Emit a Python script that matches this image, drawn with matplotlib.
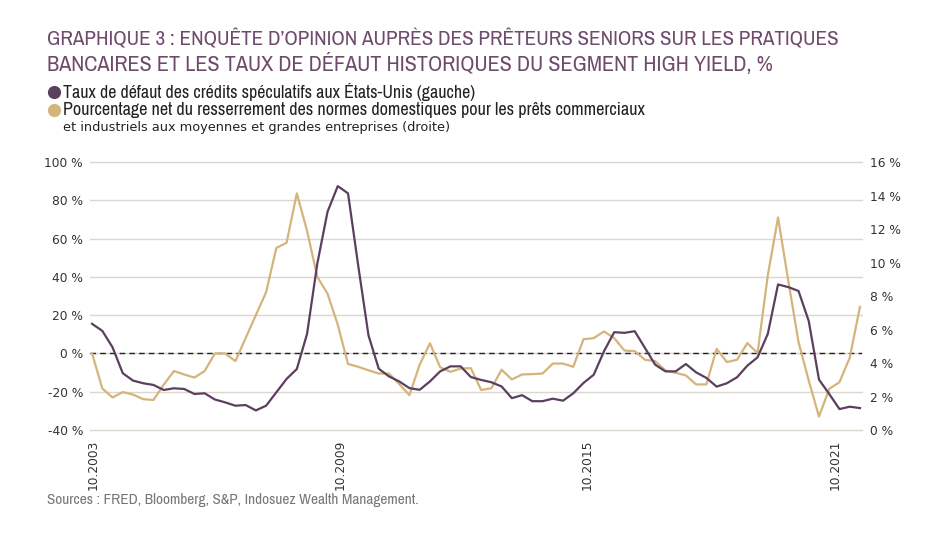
import matplotlib
matplotlib.use("Agg")
import matplotlib.pyplot as plt
from matplotlib import font_manager
from matplotlib.lines import Line2D
import numpy as np

avail = {f.name for f in font_manager.fontManager.ttflist}
NARROW = next((f for f in ["Archivo Narrow", "Roboto Condensed", "PT Sans Narrow",
                           "Barlow Semi Condensed", "Asap Condensed"] if f in avail), "DejaVu Sans")

# ---- data (quarterly, 10.2003 -> 07.2022) ----
tick_labels = ["10.2003", "10.2009", "10.2015", "10.2021"]

default_rate = [  # % (purple)
    6.34, 5.92, 4.94, 3.39, 2.95, 2.79, 2.69, 2.39, 2.49, 2.45,
    2.15, 2.19, 1.82, 1.65, 1.45, 1.49, 1.17, 1.45, 2.25, 3.05,
    3.64, 5.74, 9.93, 13.03, 14.56, 14.13, 9.8, 5.65, 3.66, 3.2,
    2.9, 2.5, 2.4, 2.9, 3.5, 3.8, 3.8, 3.16, 2.99, 2.85,
    2.6, 1.9, 2.08, 1.72, 1.72, 1.87, 1.75, 2.19, 2.81, 3.3,
    4.7, 5.84, 5.8, 5.9, 4.9, 3.9, 3.5, 3.5, 3.94, 3.44,
    3.11, 2.59, 2.79, 3.15, 3.84, 4.34, 5.74, 8.69, 8.53, 8.30,
    6.50, 3.01, 2.15, 1.25, 1.39, 1.31,
]
tightening = [  # % net (tan)
    0, -18.3, -23.0, -20.2, -21.5, -23.9, -24.3, -16.3, -9.2, -11.0,
    -12.6, -9.2, 0, 0, -4.0, 8, 20, 32, 55.1, 57.8,
    83.6, 64, 40, 31.2, 15, -5.5, -7, -8.8, -10.5, -10.5,
    -16, -21.8, -5.8, 5.3, -7.2, -9.6, -7.9, -7.7, -19.1, -18.2,
    -8.5, -13.6, -11, -10.8, -10.5, -5.3, -5.3, -7.0, 7.4, 8.0,
    11.5, 8.0, 1.5, 1.2, -3.3, -4.0, -8.9, -10.1, -11.5, -16.2,
    -16.2, 2.4, -4.5, -3.3, 5.4, 0.2, 40.8, 71.0, 38, 5.9,
    -14.2, -33.0, -18.5, -15.0, -2.3, 24.3,
]
left_ticks = [-40, -20, 0, 20, 40, 60, 80, 100]
right_ticks = [0, 2, 4, 6, 8, 10, 12, 14, 16]

PURPLE = "#5b3f5e"
TAN = "#d5b47c"
TITLE_C = "#6e4b6c"
GRID_C = "#dcd6cf"
TXT = "#333333"

W, H = 938, 542
fig = plt.figure(figsize=(W / 100, H / 100), dpi=100)
fig.patch.set_facecolor("white")
renderer = fig.canvas.get_renderer()


def fit(t, target_px):
    w = t.get_window_extent(renderer).width
    t.set_fontsize(t.get_fontsize() * target_px / w)
    return t.get_fontsize()


x = np.arange(len(default_rate))
ax = fig.add_axes([90 / W, 1 - 430 / H, (862 - 90) / W, (430 - 162) / H])
ax2 = ax.twinx()

ax.set_ylim(-40, 100)
ax2.set_ylim(0, 16)
ax.set_xlim(-0.2, len(x) - 1 + 0.2)

ax.set_yticks(left_ticks)
ax.set_yticklabels([f"{v} %" for v in left_ticks])
ax2.set_yticks(right_ticks)
ax2.set_yticklabels([f"{v} %" for v in right_ticks])
step = 24.15
ax.set_xticks([0.1 + k * step for k in range(len(tick_labels))])
ax.set_xticklabels(tick_labels, rotation=90)

for a in (ax, ax2):
    for s in a.spines.values():
        s.set_visible(False)
    a.tick_params(length=0, colors=TXT)
ax.tick_params(axis="y", labelsize=8.8, pad=5)
ax2.tick_params(axis="y", labelsize=8.8, pad=6)
ax.tick_params(axis="x", labelsize=8.8, pad=7)

ax.grid(axis="y", color=GRID_C, linewidth=1)
for gl in ax.get_ygridlines():
    gl.set_clip_on(False)
ax.set_axisbelow(True)
ax.axhline(0, color="#222222", linewidth=1, linestyle=(0, (4, 3)), zorder=2)

ax.plot(x, tightening, color=TAN, linewidth=1.6, zorder=3)
ax2.plot(x, default_rate, color=PURPLE, linewidth=1.6, zorder=4)

# title
t1 = fig.text(47 / W, 1 - 45 / H, "GRAPHIQUE 3 : ENQUÊTE D’OPINION AUPRÈS DES PRÊTEURS SENIORS SUR LES PRATIQUES",
              family=NARROW, fontsize=15, color=TITLE_C, va="baseline")
fit(t1, 795)
t2 = fig.text(47 / W, 1 - 71 / H, "BANCAIRES ET LES TAUX DE DÉFAUT HISTORIQUES DU SEGMENT HIGH YIELD, %",
              family=NARROW, fontsize=15, color=TITLE_C, va="baseline")
fit(t2, 729)

# legend
fig.add_artist(Line2D([54 / W], [1 - 92 / H], marker="o", markersize=8.5, color=PURPLE,
                      transform=fig.transFigure))
fig.add_artist(Line2D([54 / W], [1 - 110 / H], marker="o", markersize=8.5, color=TAN,
                      transform=fig.transFigure))
l1 = fig.text(63 / W, 1 - 92 / H, "Taux de défaut des crédits spéculatifs aux États-Unis (gauche)",
              family=NARROW, fontsize=11, color="#222222", va="center")
fit(l1, 412)
l2 = fig.text(63 / W, 1 - 110 / H, "Pourcentage net du resserrement des normes domestiques pour les prêts commerciaux",
              family=NARROW, fontsize=11, color="#222222", va="center")
fit(l2, 583)
l3 = fig.text(63 / W, 1 - 128 / H, "et industriels aux moyennes et grandes entreprises (droite)",
              family="DejaVu Sans", fontsize=9, color="#222222", va="center")
fit(l3, 386)

s = fig.text(47 / W, 1 - 500 / H, "Sources : FRED, Bloomberg, S&P, Indosuez Wealth Management.",
             family=NARROW, fontsize=9, color="#777777", va="center")
fit(s, 371)

fig.savefig("out.png", dpi=100)
